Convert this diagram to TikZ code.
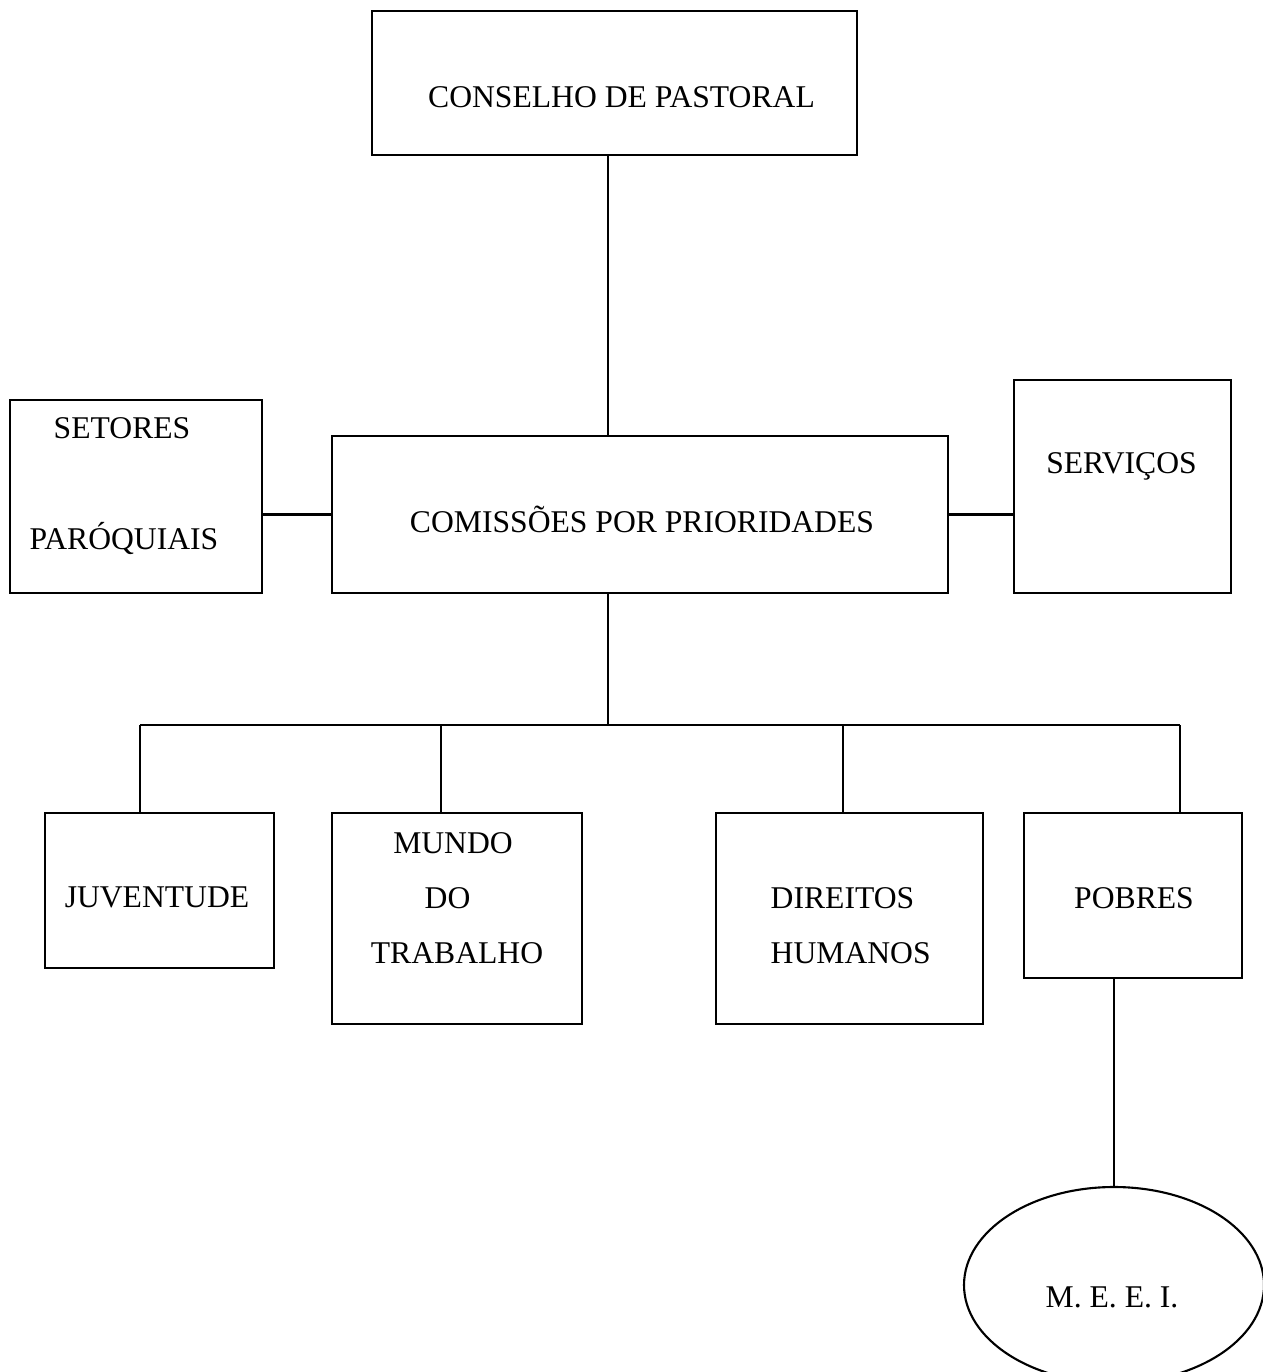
\documentclass[tikz,border=0pt]{standalone}
\usepackage{fontspec}
\setmainfont{Liberation Serif}
\usetikzlibrary{shapes.geometric}

\begin{document}
\begin{tikzpicture}[
  box/.style={draw, line width=0.6pt, inner sep=0pt},
  oval/.style={draw, ellipse, line width=0.6pt, inner sep=0pt},
  lbl/.style={anchor=base, inner sep=0pt, font=\fontsize{9}{11}\selectfont},
  link/.style={line width=0.6pt}
]
\useasboundingbox (0,0) rectangle (12.62,-13.72);

\node[box, minimum width=4.85cm, minimum height=1.44cm] (conselho) at (6.145,-0.83) {};
\node[box, minimum width=6.16cm, minimum height=1.57cm] (comissoes) at (6.40,-5.145) {};
\node[box, minimum width=2.52cm, minimum height=1.93cm] (setores) at (1.36,-4.965) {};
\node[box, minimum width=2.17cm, minimum height=2.13cm] (servicos) at (11.225,-4.865) {};
\node[box, minimum width=2.29cm, minimum height=1.55cm] (juventude) at (1.595,-8.905) {};
\node[box, minimum width=2.50cm, minimum height=2.11cm] (mundo) at (4.57,-9.185) {};
\node[box, minimum width=2.67cm, minimum height=2.11cm] (direitos) at (8.495,-9.185) {};
\node[box, minimum width=2.18cm, minimum height=1.65cm] (pobres) at (11.33,-8.955) {};
\node[oval, minimum width=3.0cm, minimum height=1.96cm] (meei) at (11.14,-12.85) {};

\node[lbl] (conselho-t) at (6.215,-1.08) {CONSELHO DE PASTORAL};
\node[lbl] (comissoes-t) at (6.42,-5.32) {COMISSÕES POR PRIORIDADES};
\node[lbl] (setores-t1) at (1.22,-4.39) {SETORES};
\node[lbl] (setores-t2) at (1.24,-5.49) {PARÓQUIAIS};
\node[lbl] (servicos-t) at (11.215,-4.74) {SERVIÇOS};
\node[lbl] (juventude-t) at (1.57,-9.07) {JUVENTUDE};
\node[lbl] (mundo-t1) at (4.53,-8.53) {MUNDO};
\node[lbl] (mundo-t2) at (4.475,-9.08) {DO};
\node[lbl] (mundo-t3) at (4.57,-9.63) {TRABALHO};
\node[lbl, anchor=base west] (direitos-t1) at (7.70,-9.08) {DIREITOS};
\node[lbl, anchor=base west] (direitos-t2) at (7.70,-9.63) {HUMANOS};
\node[lbl] (pobres-t) at (11.34,-9.08) {POBRES};
\node[lbl] (meei-t) at (11.12,-13.07) {M. E. E. I.};

\coordinate (bus) at (6.08,-7.25);
\foreach \n/\x in {juventude/1.40, mundo/4.41, direitos/8.43, pobres/11.80}
  \coordinate (\n-top) at (\x,-7.25);

\draw[link] (conselho.south -| bus) -- (comissoes.north -| bus);
\draw[link] (comissoes.south -| bus) -- (bus);
\draw[link] (setores.east |- comissoes.west) -- (comissoes.west);
\draw[link] (comissoes.east) -- (comissoes.east -| servicos.west);
\draw[link] (juventude-top) -- (pobres-top);
\foreach \n in {juventude, mundo, direitos, pobres}
  \draw[link] (\n-top) -- (\n-top |- \n.north);
\draw[link] (pobres.south -| meei.north) -- (meei.north);
\end{tikzpicture}
\end{document}
